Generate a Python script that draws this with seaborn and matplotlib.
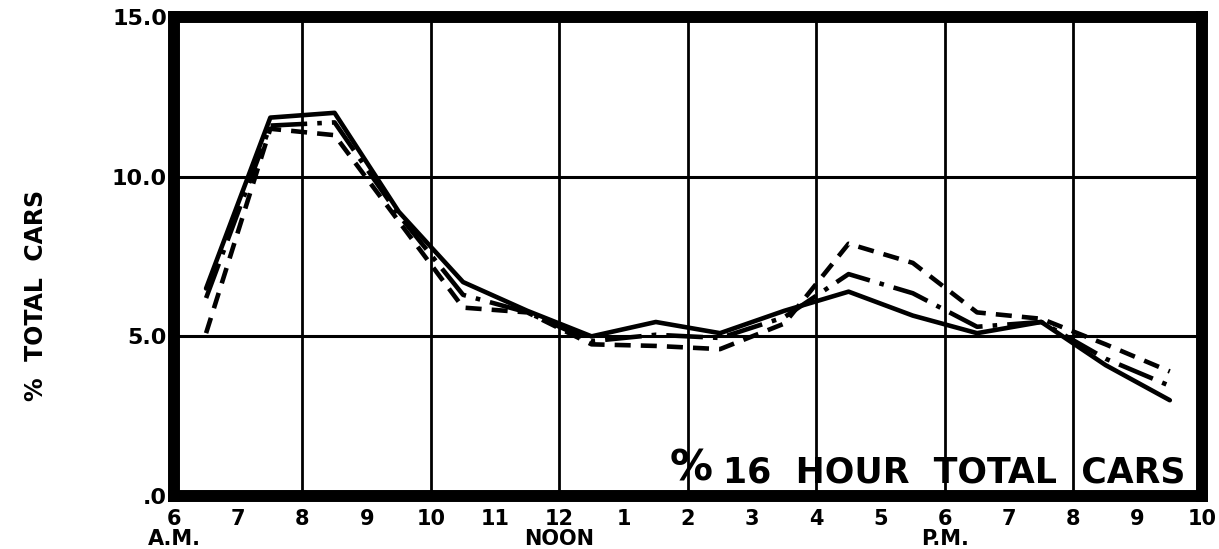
import matplotlib
matplotlib.use("Agg")
import matplotlib.pyplot as plt
import seaborn as sns
import pandas as pd

# ---- data ----
hours = [6.5, 7.5, 8.5, 9.5, 10.5, 11.5, 12.5, 13.5, 14.5, 15.5, 16.5, 17.5, 18.5, 19.5, 20.5, 21.5]
series_solid = [6.5, 11.85, 12.0, 8.9, 6.7, 5.8, 5.0, 5.45, 5.1, 5.8, 6.4, 5.65, 5.1, 5.45, 4.1, 3.0]
series_dashdot = [6.2, 11.6, 11.7, 8.8, 6.3, 5.75, 4.85, 5.05, 4.95, 5.6, 6.95, 6.35, 5.3, 5.45, 4.3, 3.45]
series_dashed = [5.1, 11.5, 11.3, 8.6, 5.9, 5.75, 4.75, 4.7, 4.6, 5.4, 7.9, 7.3, 5.75, 5.55, 4.75, 3.9]
series_names = ["Solid", "Dash-dot", "Dashed"]

tick_hours = list(range(6, 23))
tick_labels = ["6\nA.M.", "7", "8", "9", "10", "11", "12\nNOON", "1", "2", "3",
               "4", "5", "6\nP.M.", "7", "8", "9", "10"]
grid_hours = list(range(8, 22, 2))
y_ticks = [0, 5, 10, 15]
y_labels = [".0", "5.0", "10.0", "15.0"]

df = pd.DataFrame({
    "hour": hours * 3,
    "pct": series_solid + series_dashdot + series_dashed,
    "series": sum([[n] * len(hours) for n in series_names], []),
})

sns.set_theme(style="white")
plt.rcParams["font.family"] = ["DejaVu Sans"]
plt.rcParams["font.weight"] = "bold"
plt.rcParams["text.color"] = "black"
plt.rcParams["xtick.color"] = "black"
plt.rcParams["ytick.color"] = "black"
plt.rcParams["xtick.labelcolor"] = "black"
plt.rcParams["ytick.labelcolor"] = "black"

fig = plt.figure(figsize=(12.19, 5.49), dpi=100)
ax = fig.add_axes([0.1427, 0.0965, 0.8433, 0.8725])

sns.lineplot(data=df, x="hour", y="pct", style="series",
             dashes={"Solid": "", "Dash-dot": (8, 2.2, 1, 2.2), "Dashed": (3.5, 2.2)},
             color="black", linewidth=3.3, legend=False, ax=ax, zorder=3)

ax.set_xlim(6, 22)
ax.set_ylim(0, 15)
ax.set_xticks(tick_hours)
ax.set_xticklabels(tick_labels, fontsize=15, fontweight="bold", linespacing=1.0, color="black")
ax.set_yticks(y_ticks)
ax.set_yticklabels(y_labels, fontsize=16, fontweight="bold", color="black")
ax.tick_params(which="both", length=0)
ax.tick_params(axis="x", pad=9)
ax.tick_params(axis="y", pad=5)
ax.set_xlabel("")
ax.set_ylabel("")
ax.grid(False)
ax.grid(axis="y", which="major", color="black", linewidth=2.2)
for h in grid_hours:
    ax.axvline(h, color="black", linewidth=2.0, zorder=1)
ax.set_axisbelow(True)

for s in ax.spines.values():
    s.set_visible(True)
    s.set_color("black")
    s.set_linewidth(8.6)
    s.set_capstyle("projecting")
    s.set_zorder(5)

ax.text(21.75, 0.42, "16  HOUR  TOTAL  CARS", ha="right", va="baseline",
        fontsize=25, fontweight="bold", color="black", zorder=4)
ax.text(14.05, 0.2, "%", ha="center", va="bottom",
        fontsize=31, fontweight="bold", color="black", zorder=4)

fig.text(36 / 1219, 1 - 295 / 549, "%  TOTAL  CARS", rotation=90,
         ha="center", va="center", fontsize=17, fontweight="bold", color="black")

fig.savefig("out.png", dpi=100, facecolor="white")
